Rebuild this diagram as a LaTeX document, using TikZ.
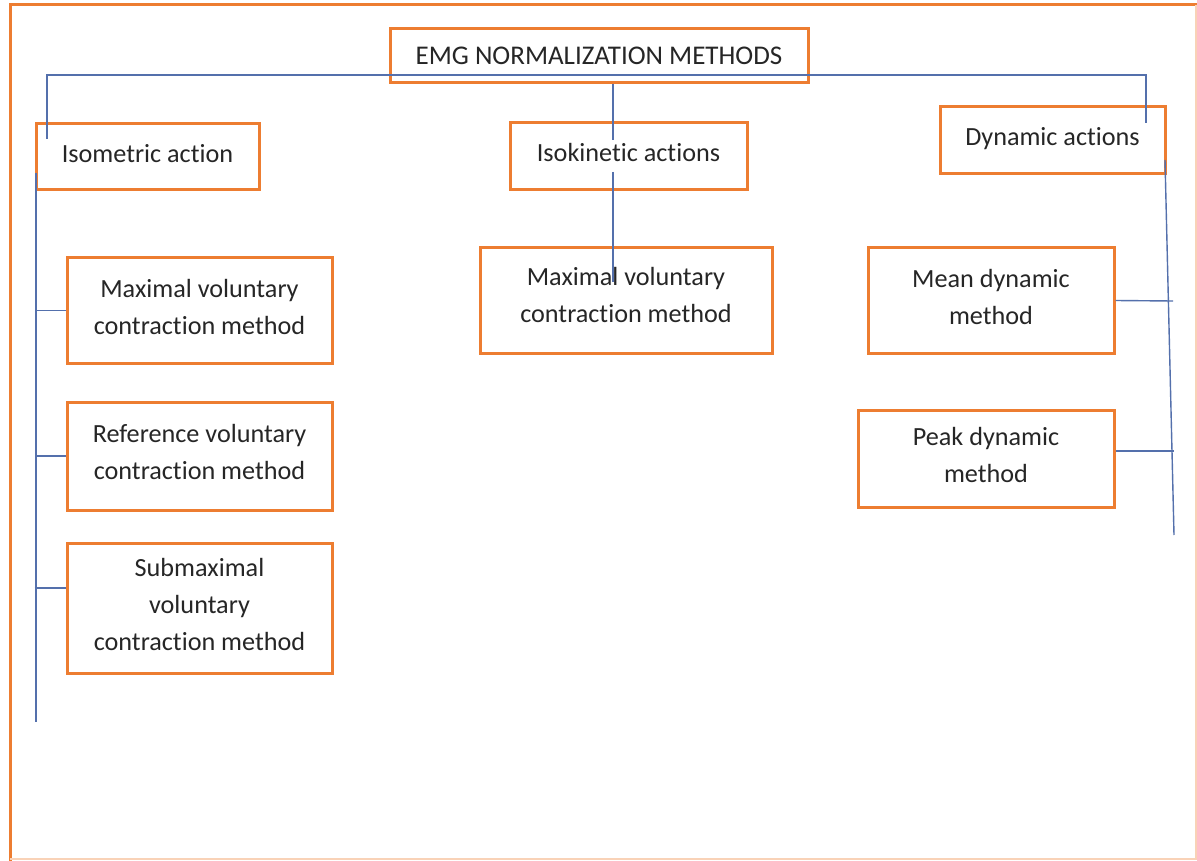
\documentclass[tikz,border=0pt]{standalone}
\usepackage{fontspec}
\setmainfont{Carlito}[Ligatures={NoCommon}]
\definecolor{boxorange}{RGB}{237,125,49}
\definecolor{lineblue}{RGB}{84,112,172}
\definecolor{txt}{RGB}{38,38,38}
\begin{document}
\begin{tikzpicture}[x=1pt,y=-1pt,
  box/.style={draw=boxorange,line width=3pt,rectangle,align=center,text=txt,
    font=\fontsize{26.2}{37}\selectfont,inner sep=0pt,text depth=8pt},
  conn/.style={draw=lineblue,line width=1.4pt}]
\useasboundingbox (0,0) rectangle (1197,861);
\fill[white] (0,0) rectangle (1197,861);
% outer frame
\draw[boxorange,line width=3pt] (10,861) -- (10,5) -- (1197,5);
\draw[boxorange!35,line width=2pt] (10,859) -- (1196,859) -- (1196,5);
% nodes
\node[box,text depth=0pt,font=\fontsize{27}{37}\selectfont,minimum width=418pt,minimum height=54pt] (emg) at (599,56) {EMG NORMALIZATION METHODS};
\node[box,minimum width=223pt,minimum height=66pt] (iso) at (147.5,157) {Isometric action};
\node[box,minimum width=237pt,minimum height=67pt] (isok) at (628.5,156.5) {Isokinetic actions};
\node[box,minimum width=225pt,minimum height=67pt] (dyn) at (1052.5,140.5) {Dynamic actions};
\node[box,minimum width=265pt,minimum height=105pt] (m1) at (199.5,310.5) {Maximal voluntary\\contraction method};
\node[box,minimum width=265pt,minimum height=108pt] (m2) at (199.5,456) {Reference voluntary\\contraction method};
\node[box,minimum width=265pt,minimum height=130pt] (m3) at (199.5,608) {Submaximal\\voluntary\\contraction method};
\node[box,text depth=11pt,minimum width=292pt,minimum height=105pt] (c1) at (626,300.5) {Maximal voluntary\\contraction method};
\node[box,minimum width=246pt,minimum height=105pt] (d1) at (991,300.5) {Mean dynamic\\method};
\node[box,minimum width=256pt,minimum height=97pt] (d2) at (986,458.5) {Peak dynamic\\method};
% coordinates
\coordinate (isoTop) at (47,139);
\coordinate (busL) at (47,75);
\coordinate (busR) at (1146,75);
\coordinate (dynTop) at (1146,123);
\coordinate (cA) at (613,140);
\coordinate (cB) at (613,172);
\coordinate (cEnd) at (613,282);
\coordinate (lTop) at (36,173);
\coordinate (lBot) at (36,722);
\coordinate (rTop) at (1165,160);
\coordinate (rBot) at (1174,535);
% connectors
\draw[conn] (isoTop) -- (busL) -- (busR) -- (dynTop);
\draw[conn] (emg.south -| cA) -- (cA);
\draw[conn] (cB) -- (cEnd);
\draw[conn] (lTop) -- (lBot);
\draw[conn] (m1.west -| lTop) -- (m1.west);
\draw[conn] (m2.west -| lTop) -- (m2.west);
\draw[conn] (m3.west |- 0,588) ++(-31,0) -- (m3.west |- 0,588);
\draw[conn] (rTop) -- (rBot);
\draw[conn] (d1.east) -- (1173,301);
\draw[conn] (d2.east |- 0,451) -- (1174,451);
\end{tikzpicture}
\end{document}
